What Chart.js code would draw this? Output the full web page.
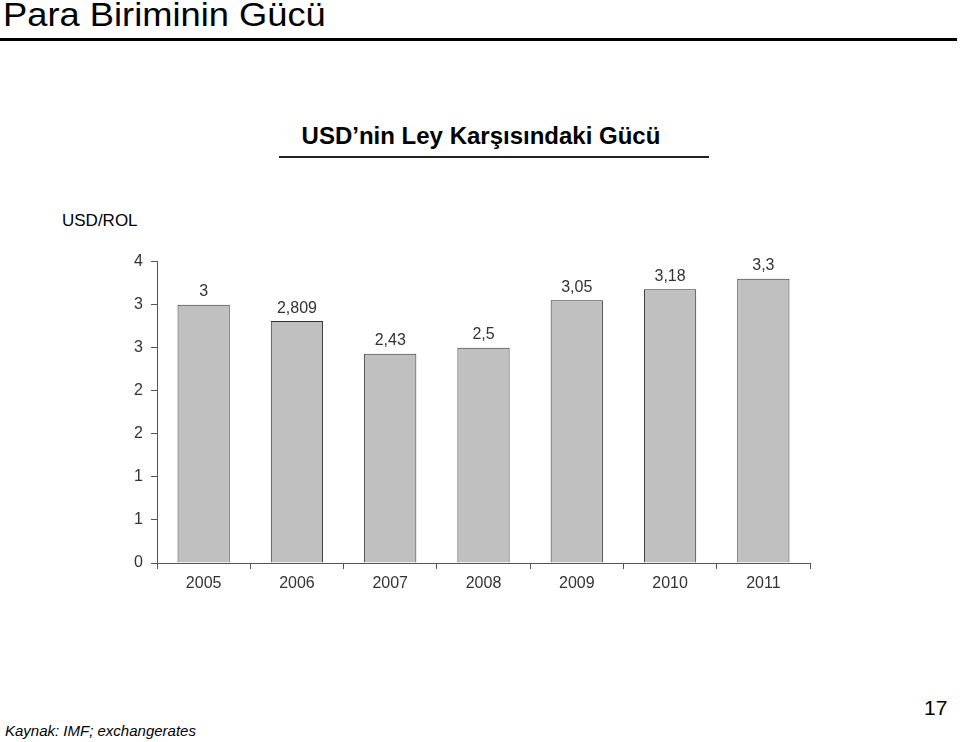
<!DOCTYPE html>
<html>
<head>
<meta charset="utf-8">
<script src="https://cdn.jsdelivr.net/npm/chart.js@4.4.1/dist/chart.umd.min.js"></script>
<style>
  body { margin: 0; background: #fff; width: 960px; height: 742px; position: relative; overflow: hidden; font-family: "Liberation Sans", Arial, sans-serif; }
  .title { position: absolute; left: 3px; top: -4px; font-size: 33px; color: #000; transform: scaleX(1.1); transform-origin: left top; white-space: nowrap; }
  .rule { position: absolute; left: 0; top: 38px; width: 957px; height: 3px; background: #000; }
  .sub { position: absolute; left: 0; width: 962px; top: 122px; text-align: center; font-weight: bold; font-size: 24px; color: #000; }
  .subrule { position: absolute; left: 279px; top: 156px; width: 430px; height: 2px; background: #222; }
  .unit { position: absolute; left: 62px; top: 211px; font-size: 17px; color: #000; }
  .src { position: absolute; left: 5px; top: 722px; font-style: italic; font-size: 15px; color: #000; }
  .page { position: absolute; left: 924px; top: 696px; font-size: 21px; color: #000; }
  #wrap { position: absolute; left: 100px; top: 244px; }
</style>
</head>
<body>
<div class="title">Para Biriminin Gücü</div>
<div class="rule"></div>
<div class="sub">USD’nin Ley Karşısındaki Gücü</div>
<div class="subrule"></div>
<div class="unit">USD/ROL</div>
<div id="wrap"><canvas id="usdchart" width="712" height="367"></canvas></div>
<div class="src">Kaynak: IMF; exchangerates</div>
<div class="page">17</div>
<script>
const years = ["2005", "2006", "2007", "2008", "2009", "2010", "2011"];
const usdRol = [3, 2.809, 2.43, 2.5, 3.05, 3.18, 3.3];

const fontFam = "'Liberation Sans', Arial, sans-serif";

// value labels above the bars, comma as decimal mark
const barLabels = {
    id: "barLabels",
    afterDatasetsDraw(chart) {
        const ctx = chart.ctx;
        const meta = chart.getDatasetMeta(0);
        ctx.save();
        ctx.font = "16px " + fontFam;
        ctx.fillStyle = "#333";
        ctx.textAlign = "center";
        ctx.textBaseline = "middle";
        meta.data.forEach(function (bar, i) {
            ctx.fillText(String(usdRol[i]).replace(".", ","), bar.x, bar.y - 13);
        });
        ctx.restore();
    }
};

new Chart(document.getElementById("usdchart"), {
    "type": "bar",
    "data": {
        "labels": years,
        "datasets": [{
            "data": usdRol,
            "backgroundColor": "#c0c0c0",
            "borderColor": "#333",
            "borderWidth": 1,
            "categoryPercentage": 1,
            "barPercentage": 0.56
        }]
    },
    "options": {
        responsive: false,
        animation: false,
        devicePixelRatio: 1,
        layout: { padding: { top: 10, right: 2, left: 0, bottom: 0 } },
        plugins: { legend: { display: false }, tooltip: { enabled: false } },
        scales: {
            x: {
                afterFit(scale) { scale.height = 48; },
                grid: { drawOnChartArea: false, tickLength: 6, color: "#555" },
                border: { color: "#555", width: 1 },
                ticks: { color: "#333", padding: 5, font: { family: fontFam, size: 16 } }
            },
            y: {
                min: 0,
                max: 3.5,
                afterFit(scale) { scale.width = 57; },
                grid: { drawOnChartArea: false, tickLength: 6, color: "#555" },
                border: { color: "#555", width: 1 },
                ticks: {
                    stepSize: 0.5,
                    color: "#333",
                    padding: 8,
                    font: { family: fontFam, size: 16 },
                    callback: function (v) { return Math.round(v); }
                }
            }
        }
    },
    plugins: [barLabels]
});
</script>
</body>
</html>
